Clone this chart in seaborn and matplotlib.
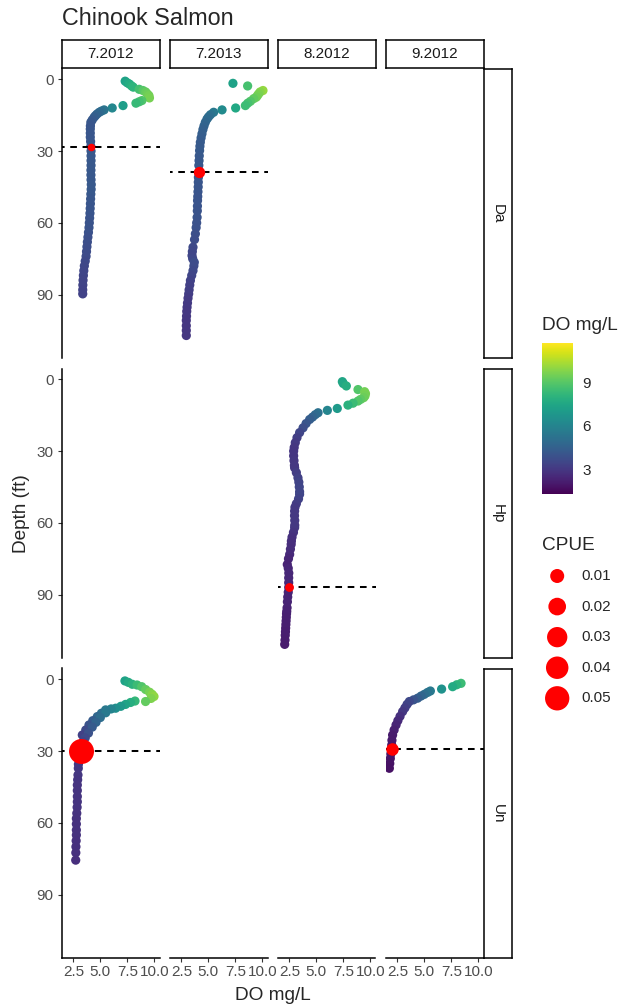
import numpy as np
import pandas as pd
import matplotlib
matplotlib.use("Agg")
import matplotlib.pyplot as plt
from matplotlib.colors import Normalize, PowerNorm
from matplotlib.cm import ScalarMappable
import seaborn as sns

# facet levels
months = ["7.2012", "7.2013", "8.2012", "9.2012"]
sites = ["Da", "Hp", "Un"]

# DO profiles (depth ft, DO mg/L)
da_jul12_depth = [0.8, 1.5, 2.0, 2.8, 3.3, 4.2, 4.7, 5.3, 6.1, 6.8, 7.8, 8.9, 9.4, 10.0,
                  11.0, 12.0, 12.8, 13.3, 13.8, 14.5, 15.2, 15.9, 17.0, 18.0, 19.5, 20.8,
                  22.5, 24.2, 26.0, 28.0, 30, 32, 34, 36, 38, 40, 42, 44, 46, 48, 50, 52,
                  54, 56, 58, 60, 62, 64, 66, 68, 70, 72, 74, 76, 78, 80, 82, 84, 86, 88, 89.7]
da_jul12_do = [7.3, 7.5, 7.7, 7.9, 8.05, 8.6, 8.95, 9.2, 9.35, 9.5, 9.55, 8.85, 8.6, 8.3,
               7.1, 6.1, 5.35, 5.1, 4.9, 4.7, 4.55, 4.42, 4.25, 4.12, 4.08, 4.07,
               4.07, 4.07, 4.1, 4.12, 4.14, 4.14, 4.14, 4.14, 4.13, 4.13, 4.14, 4.16, 4.15, 4.12, 4.1, 4.08,
               4.06, 4.04, 4.01, 3.98, 3.95, 3.9, 3.85, 3.8, 3.76, 3.72, 3.68, 3.6, 3.52, 3.47, 3.43, 3.4, 3.38, 3.37, 3.37]

da_jul13_depth = [1.7, 2.8, 4.7, 5.3, 6.1, 6.8, 7.5, 8.1, 9.2, 10.0, 11.0, 12.0, 12.8, 13.8,
                  14.8, 15.7, 16.6, 18.0, 19.5, 21.0, 22.8, 24.5, 26.3, 28.0, 29.8, 32, 34,
                  36, 38.9, 41, 43, 45, 47, 49, 50.7, 53, 55, 57.7, 60, 62, 64.6, 67, 70.2,
                  72, 73.7, 75, 76.5, 78, 80, 82, 84.1, 86, 88, 89.7, 91.5, 93.5, 95.3, 97,
                  99, 100.8, 103, 105, 107.1]
da_jul13_do = [7.28, 8.64, 10.06, 9.8, 9.66, 9.55, 9.44, 9.2, 8.9, 8.65, 8.43, 7.53, 6.27, 5.49,
               5.2, 5.02, 4.88, 4.72, 4.6, 4.5, 4.41, 4.33, 4.26, 4.22, 4.19, 4.16, 4.14,
               4.12, 4.1, 4.08, 4.07, 4.06, 4.04, 4.02, 4.0, 3.99, 3.98, 3.96, 3.92, 3.87, 3.8, 3.72, 3.58,
               3.52, 3.49, 3.55, 3.7, 3.66, 3.58, 3.46, 3.34, 3.28, 3.22, 3.18, 3.12, 3.07, 3.03, 3.0,
               2.98, 2.96, 2.96, 2.96, 2.96]

hp_aug12_depth = [1.0, 1.8, 2.8, 4.3, 5.2, 6.0, 7.0, 7.7, 8.4, 9.1, 10.0, 10.8, 12.2, 13.0,
                  14.0, 14.8, 15.8, 16.8, 18.5, 20.3, 22.3, 24.4, 26.5, 28.5, 30, 32, 34,
                  36, 37, 39, 41.2, 43, 45, 47, 48.1, 50, 52, 53.5, 55.1, 57, 59, 61, 62,
                  64, 66, 67.6, 69, 71, 73.2, 75, 77.4, 79, 81, 83, 85, 87, 89, 91, 93,
                  95.5, 97, 98, 99.5, 101, 102.5, 104, 105.5, 107, 109, 110.8]
hp_aug12_do = [7.41, 7.5, 7.78, 8.86, 9.47, 9.55, 9.5, 9.38, 9.1, 8.86, 8.4, 7.93, 6.94, 6.02,
               5.16, 4.9, 4.65, 4.38, 4.05, 3.77, 3.45, 3.21, 3.05, 2.95, 2.9, 2.9, 2.93,
               2.97, 2.99, 3.15, 3.3, 3.38, 3.42, 3.45, 3.45, 3.35, 3.15, 3.02, 2.99, 2.98, 3.0, 3.0, 2.99,
               2.88, 2.75, 2.69, 2.67, 2.6, 2.53, 2.42, 2.31, 2.4, 2.45, 2.44, 2.44, 2.44, 2.4, 2.35, 2.32,
               2.29, 2.26, 2.24, 2.22, 2.2, 2.18, 2.16, 2.14, 2.12, 2.1, 2.07]

un_jul12_depth = [0.7, 1.3, 2.1, 2.4, 3.1, 4.3, 5.4, 6.3, 7.2, 8.0, 9.3, 9.1, 9.7, 10.5, 11.3,
                  12.1, 12.4, 12.8, 14.2, 15.6, 17.3, 19.1, 21.2, 23.3, 14.0, 16.0, 18.0, 20.0,
                  22.5, 24.5, 26.1, 28.0, 29.6, 31.5, 33.5, 35.5, 37.2, 40, 42, 44.2, 46.5, 49,
                  51.2, 53.5, 56, 58.2, 60.5, 63, 65.1, 67.5, 70, 72.5, 75.6]
un_jul12_do = [7.28, 7.6, 7.96, 8.4, 8.83, 9.2, 9.56, 9.8, 9.97, 9.7, 9.19, 8.21, 7.8, 7.34, 6.9,
               6.42, 6.0, 5.49, 5.1, 4.72, 4.3, 3.95, 3.65, 3.33, 5.5, 5.0, 4.6, 4.25,
               3.9, 3.6, 3.4, 3.25, 3.18, 3.08, 3.0, 2.97, 2.96, 2.93, 2.9, 2.87, 2.87, 2.87,
               2.87, 2.85, 2.82, 2.78, 2.78, 2.78, 2.78, 2.76, 2.74, 2.73, 2.72]

un_sep12_depth = [1.7, 2.3, 3.1, 4.1, 4.9, 5.5, 6.3, 7.0, 7.9, 8.6, 9.3, 10.5, 12.0, 13.5,
                  15.5, 17.3, 19.1, 21.2, 23.3, 25.5, 27.5, 29.2, 31.2, 33.1, 35.2, 37.2]
un_sep12_do = [8.40, 8.0, 7.62, 6.60, 5.56, 5.3, 5.0, 4.7, 4.38, 4.0, 3.61, 3.4, 3.2, 2.99,
               2.75, 2.55, 2.38, 2.2, 2.06, 2.0, 1.98, 1.97, 1.9, 1.85, 1.8, 1.76]

# catch depth and CPUE
catch_site = ["Da", "Da", "Hp", "Un", "Un"]
catch_month = ["7.2012", "7.2013", "8.2012", "7.2012", "9.2012"]
catch_depth = [28.3, 38.9, 87.0, 29.8, 29.2]
catch_do = [4.12, 4.1, 2.44, 3.18, 1.97]
catch_cpue = [0.001, 0.005, 0.002, 0.054, 0.007]

do_range = (1.3, 11.7)
do_breaks = [3, 6, 9]
cpue_breaks = [0.01, 0.02, 0.03, 0.04, 0.05]

profiles = pd.concat([
    pd.DataFrame({"site": "Da", "month": "7.2012", "depth": da_jul12_depth, "do": da_jul12_do}),
    pd.DataFrame({"site": "Da", "month": "7.2013", "depth": da_jul13_depth, "do": da_jul13_do}),
    pd.DataFrame({"site": "Hp", "month": "8.2012", "depth": hp_aug12_depth, "do": hp_aug12_do}),
    pd.DataFrame({"site": "Un", "month": "7.2012", "depth": un_jul12_depth, "do": un_jul12_do}),
    pd.DataFrame({"site": "Un", "month": "9.2012", "depth": un_sep12_depth, "do": un_sep12_do}),
], ignore_index=True)
catch = pd.DataFrame({"site": catch_site, "month": catch_month, "depth": catch_depth,
                      "do": catch_do, "cpue": catch_cpue})

sns.set_style("white")
plt.rcParams["font.family"] = ["Liberation Sans", "DejaVu Sans"]

W, H = 618, 1006
fig = plt.figure(figsize=(W / 100, H / 100), dpi=100)


def px_axes(x0, y0, w, h):
    return fig.add_axes([x0 / W, 1 - (y0 + h) / H, w / W, h / H])


size_norm = PowerNorm(gamma=0.75, vmin=0, vmax=0.054)
size_range = (14.4, 324)
tick_grey = "#4D4D4D"
line_w = 1.1
small = 11
big = 13.7

col_left = [62 + i * 108 for i in range(4)]
panel_w = 97.5
row_top = [68.5 + j * 300 for j in range(3)]
panel_h = 289.5

for j, site in enumerate(sites):
    for i, month in enumerate(months):
        ax = px_axes(col_left[i], row_top[j], panel_w, panel_h)
        prof = profiles[(profiles.site == site) & (profiles.month == month)]
        hit = catch[(catch.site == site) & (catch.month == month)]
        if len(prof):
            sns.scatterplot(data=prof, x="do", y="depth", hue="do", palette="viridis",
                            hue_norm=do_range, s=44, linewidth=0, legend=False, ax=ax)
        for d in hit.depth:
            ax.axhline(d, color="black", lw=1.45, ls=(2.0, (3.3, 2.8)), zorder=2)
        if len(hit):
            sns.scatterplot(data=hit, x="do", y="depth", size="cpue", sizes=size_range,
                            size_norm=size_norm, color="red", linewidth=0, legend=False,
                            zorder=3, ax=ax)
        ax.set(xlabel="", ylabel="")
        ax.set_xlim(1.45, 10.48)
        ax.set_ylim(116.5, -4.5)
        ax.set_xticks([2.5, 5.0, 7.5, 10.0])
        ax.set_xticklabels(["2.5", "5.0", "7.5", "10.0"])
        ax.set_yticks([0, 30, 60, 90])
        for s in ["top", "right"]:
            ax.spines[s].set_visible(False)
        ax.spines["left"].set_visible(i == 0)
        ax.spines["bottom"].set_visible(j == 2)
        for s in ["left", "bottom"]:
            ax.spines[s].set_color("black")
            ax.spines[s].set_linewidth(line_w)
        ax.tick_params(axis="y", left=(i == 0), labelleft=(i == 0), length=3,
                       width=0.8, color="#333333", labelcolor=tick_grey, labelsize=small, pad=3)
        ax.tick_params(axis="x", bottom=(j == 2), labelbottom=(j == 2), length=3,
                       width=0.8, color="#333333", labelcolor=tick_grey, labelsize=small, pad=2)
        ax.patch.set_alpha(0)

# strips
for i, month in enumerate(months):
    sax = px_axes(col_left[i], 40, panel_w, 28.3)
    sax.set_xticks([])
    sax.set_yticks([])
    for s in sax.spines.values():
        s.set_visible(True)
        s.set_color("black")
        s.set_linewidth(line_w)
    sax.text(0.5, 0.5, month, ha="center", va="center", fontsize=small, color="#1A1A1A",
             transform=sax.transAxes)

for j, site in enumerate(sites):
    sax = px_axes(484, row_top[j], 28, panel_h)
    sax.set_xticks([])
    sax.set_yticks([])
    for s in sax.spines.values():
        s.set_visible(True)
        s.set_color("black")
        s.set_linewidth(line_w)
    sax.text(0.5, 0.5, site, ha="center", va="center", rotation=-90, fontsize=small,
             color="#1A1A1A", transform=sax.transAxes)

# titles
fig.text(62 / W, 1 - 25 / H, "Chinook Salmon", fontsize=16.8, ha="left", va="baseline")
fig.text(272.75 / W, 1 - 1000 / H, "DO mg/L", fontsize=big, ha="center", va="baseline")
fig.text(22 / W, 1 - 513.5 / H, "Depth (ft)", fontsize=big, ha="center", va="center",
         rotation=90)

# colour legend
fig.text(542 / W, 1 - 330 / H, "DO mg/L", fontsize=big, ha="left", va="baseline")
cax = px_axes(542, 343, 30.5, 150.7)
cb = fig.colorbar(ScalarMappable(norm=Normalize(*do_range), cmap="viridis"), cax=cax)
cb.outline.set_visible(False)
cb.set_ticks(do_breaks)
cax.tick_params(left=True, right=True, labelleft=False, labelright=True, direction="in",
                length=4.3, width=0.8, color="white", labelsize=small, pad=7)

# size legend
fig.text(542 / W, 1 - 549.5 / H, "CPUE", fontsize=big, ha="left", va="baseline")
lax = px_axes(542, 560, 76, 155)
sns.scatterplot(x=[0.2] * len(cpue_breaks), y=cpue_breaks, size=cpue_breaks, sizes=size_range,
                size_norm=size_norm, color="red", linewidth=0, legend=False, ax=lax)
for v in cpue_breaks:
    lax.text(0.522, v, f"{v:.2f}", ha="left", va="center", fontsize=small)
lax.set_xlim(0, 1)
lax.set_ylim(0.05546, 0.00477)
lax.axis("off")

fig.savefig("out.png", dpi=100)
